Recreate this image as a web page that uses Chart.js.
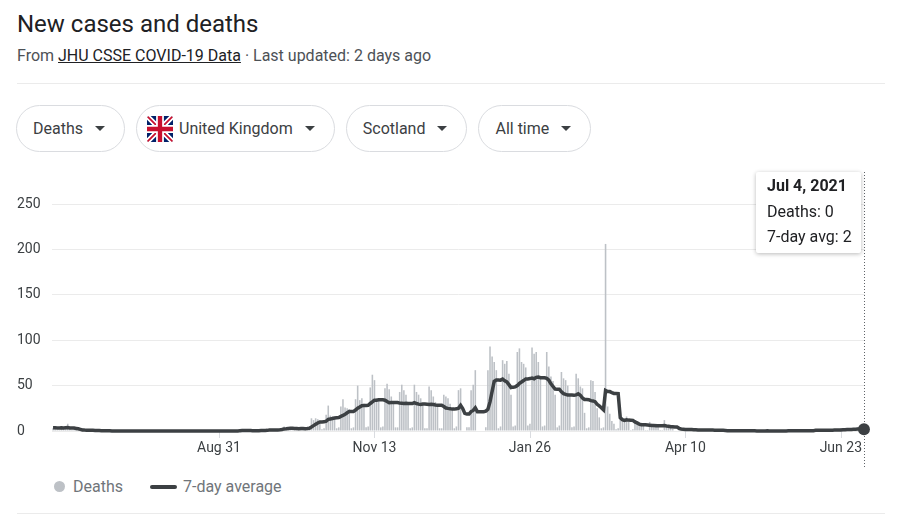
<!DOCTYPE html>
<html>
<head>
<meta charset="utf-8">
<script src="https://cdn.jsdelivr.net/npm/chart.js@4.4.1/dist/chart.umd.min.js"></script>
<style>
  body { margin: 0; background: #fff; font-family: Roboto, Arial, sans-serif; width: 921px; height: 522px; overflow: hidden; position: relative; }
  .title { position: absolute; left: 17px; top: 10px; font-size: 24px; line-height: 28px; color: #202124; }
  .sub { position: absolute; left: 17px; top: 46px; font-size: 16px; line-height: 20px; color: #4d5156; }
  .sub a { color: #202124; text-decoration: underline; }
  .rule { position: absolute; left: 17px; width: 868px; height: 1px; background: #ebebeb; }
  .chips { position: absolute; left: 16px; top: 105px; display: flex; gap: 11px; }
  .chip { box-sizing: border-box; height: 47px; border: 1px solid #dadce0; border-radius: 24px; display: flex; align-items: center; padding: 0 19px 0 16px; font-size: 16px; color: #3c4043; }
  .chip.flag { padding-left: 10px; }
  .chip svg { margin-right: 6px; }
  .caret { width: 0; height: 0; border-left: 5px solid transparent; border-right: 5px solid transparent; border-top: 5px solid #3c4043; margin-left: 12px; }
  #wrap { position: absolute; left: 17px; top: 160px; width: 868px; height: 311px; }
  .tip { position: absolute; left: 756px; top: 172px; width: 105px; height: 81px; box-sizing: border-box; background: #fff; box-shadow: 0 1px 4px rgba(0,0,0,0.28); border-radius: 2px; padding: 1px 0 0 11px; font-size: 16px; line-height: 25.5px; color: #202124; }
  .tip b { font-weight: 700; }
  .legend { position: absolute; left: 54px; top: 477px; display: flex; align-items: center; font-size: 16px; color: #70757a; }
  .dot { width: 11px; height: 11px; border-radius: 50%; background: #bdc1c6; margin-right: 8px; }
  .seg { width: 27px; height: 4px; border-radius: 2px; background: #3c4043; margin: 0 6px 0 27px; }
</style>
</head>
<body>
<div class="title">New cases and deaths</div>
<div class="sub">From <a>JHU CSSE COVID-19 Data</a> · Last updated: 2 days ago</div>
<div class="rule" style="top:83px"></div>

<div class="chips">
  <div class="chip">Deaths<span class="caret"></span></div>
  <div class="chip flag">
    <svg width="26" height="26" viewBox="0 0 60 60">
      <defs><clipPath id="r"><rect width="60" height="60" rx="6"/></clipPath></defs>
      <g clip-path="url(#r)">
        <rect width="60" height="60" fill="#012169"/>
        <path d="M0,0 L60,60 M60,0 L0,60" stroke="#fff" stroke-width="12"/>
        <path d="M0,0 L60,60 M60,0 L0,60" stroke="#C8102E" stroke-width="4"/>
        <path d="M30,0 V60 M0,30 H60" stroke="#fff" stroke-width="18"/>
        <path d="M30,0 V60 M0,30 H60" stroke="#C8102E" stroke-width="10"/>
      </g>
    </svg>United Kingdom<span class="caret"></span></div>
  <div class="chip">Scotland<span class="caret"></span></div>
  <div class="chip">All time<span class="caret"></span></div>
</div>

<div id="wrap"><canvas id="covidChart"></canvas></div>

<div class="tip"><b id="tipDate">Jul 4, 2021</b><br><span id="tipDeaths"></span><br><span id="tipAvg"></span></div>

<div class="legend"><span class="dot"></span>Deaths<span class="seg"></span>7-day average</div>
<div class="rule" style="top:513px"></div>

<script>
// first day of the series (Sat Jun 13, 2020), one value per day up to Sun Jul 4, 2021
const startDay = [2020, 5, 13];

// daily deaths: first Sat+Sun, then one row per week Mon..Sun
const deaths = [
  3, 4,
  1, 1, 5, 3, 4, 8, 2,        // Jun 15
  1, 2, 3, 1, 0, 1, 0,        // Jun 22
  0, 1, 1, 0, 1, 0, 0,        // Jun 29
  0, 0, 1, 0, 0, 1, 0,        // Jul 6
  0, 0, 0, 0, 0, 0, 0,        // Jul 13
  0, 0, 0, 0, 0, 0, 0,        // Jul 20
  0, 0, 0, 0, 0, 0, 0,        // Jul 27
  0, 0, 0, 0, 0, 0, 0,        // Aug 3
  0, 0, 0, 0, 0, 0, 0,        // Aug 10
  0, 0, 0, 0, 0, 0, 0,        // Aug 17
  0, 0, 0, 0, 0, 0, 0,        // Aug 24
  0, 0, 0, 0, 0, 0, 0,        // Aug 31
  0, 0, 1, 2, 1, 0, 0,        // Sep 7
  0, 0, 1, 0, 1, 0, 1,        // Sep 14
  0, 0, 1, 2, 1, 1, 1,        // Sep 21
  0, 1, 3, 5, 2, 3, 2,        // Sep 28
  1, 1, 4, 3, 4, 3, 2,        // Oct 5
  1, 2, 14, 12, 14, 13, 11,   // Oct 12
  2, 3, 18, 28, 17, 16, 15,   // Oct 19
  3, 4, 27, 35, 26, 25, 24,   // Oct 26
  3, 4, 35, 50, 34, 36, 30,   // Nov 2
  4, 5, 48, 62, 56, 36, 33,   // Nov 9
  4, 5, 47, 52, 46, 38, 33,   // Nov 16
  4, 4, 43, 51, 45, 40, 30,   // Nov 23
  3, 4, 51, 43, 40, 36, 30,   // Nov 30
  3, 3, 49, 45, 38, 32, 28,   // Dec 7
  3, 3, 40, 38, 36, 30, 25,   // Dec 14
  3, 5, 45, 47, 0, 0, 4,      // Dec 21
  4, 45, 51, 67, 0, 0, 0,     // Dec 28
  0, 4, 67, 93, 82, 76, 67,   // Jan 4
  3, 5, 78, 74, 77, 63, 40,   // Jan 11
  5, 6, 87, 91, 76, 74, 70,   // Jan 18
  6, 8, 92, 85, 87, 76, 60,   // Jan 25
  5, 6, 87, 71, 60, 55, 40,   // Feb 1
  4, 6, 65, 58, 56, 50, 40,   // Feb 8
  4, 5, 63, 58, 49, 47, 20,   // Feb 15
  3, 4, 56, 55, 43, 25, 15,   // Feb 22
  3, 4, 206, 27, 19, 11, 8,   // Mar 1
  2, 3, 21, 15, 13, 16, 12,   // Mar 8
  1, 2, 12, 10, 8, 9, 6,      // Mar 15
  1, 1, 10, 8, 7, 8, 6,       // Mar 22
  1, 1, 12, 6, 5, 4, 3,       // Mar 29
  0, 0, 3, 2, 3, 2, 1,        // Apr 5
  0, 0, 2, 2, 1, 2, 1,        // Apr 12
  0, 0, 1, 2, 1, 1, 0,        // Apr 19
  0, 0, 1, 1, 0, 1, 0,        // Apr 26
  0, 0, 0, 1, 1, 0, 0,        // May 3
  0, 0, 0, 1, 0, 0, 0,        // May 10
  0, 0, 1, 0, 0, 0, 0,        // May 17
  0, 0, 0, 1, 0, 1, 0,        // May 24
  0, 0, 1, 1, 0, 1, 0,        // May 31
  0, 0, 1, 1, 2, 1, 0,        // Jun 7
  0, 0, 2, 1, 2, 1, 1,        // Jun 14
  0, 0, 3, 2, 3, 2, 2,        // Jun 21
  0, 1, 3, 4, 3, 3, 0         // Jun 28
];

// 7-day average as drawn on the chart, same layout
const avg7 = [
  3.5, 3.5,
  3.4, 3.3, 3.5, 3.4, 3.6, 3.8, 3.4,
  3.3, 3.2, 2.8, 2.4, 1.8, 1.2, 1.0,
  0.9, 0.9, 0.7, 0.7, 0.6, 0.6, 0.6,
  0.4, 0.4, 0.4, 0.3, 0.3, 0.1, 0,
  0, 0, 0, 0, 0, 0, 0,
  0, 0, 0, 0, 0, 0, 0,
  0, 0, 0, 0, 0, 0, 0,
  0, 0, 0, 0, 0, 0, 0,
  0, 0, 0, 0, 0, 0, 0,
  0, 0, 0, 0, 0, 0, 0,
  0, 0, 0, 0, 0, 0, 0,
  0, 0, 0, 0, 0, 0, 0,
  0, 0, 0.1, 0.4, 0.6, 0.6, 0.6,
  0.6, 0.6, 0.4, 0.3, 0.3, 0.4, 0.6,
  0.6, 0.6, 0.7, 1.0, 1.0, 1.1, 1.1,
  1.1, 1.3, 1.6, 2.3, 2.4, 2.7, 2.9,
  2.9, 2.8, 2.8, 2.6, 2.7, 2.7, 2.6,
  2.7, 3.0, 4.4, 5.9, 7.4, 8.9, 10.0,
  10.0, 10.1, 10.7, 12.9, 13.3, 13.7, 14.3,
  14.6, 14.9, 16.1, 17.1, 18.4, 20.1, 21.4,
  21.6, 21.6, 23.0, 25.1, 26.4, 27.9, 28.0,
  28.1, 28.3, 30.3, 32.0, 34.0, 34.0, 34.4,
  34.3, 34.3, 33.9, 32.4, 31.1, 31.4, 31.4,
  31.4, 31.3, 30.7, 30.6, 30.4, 30.6, 30.2,
  30.2, 30.2, 31.3, 30.3, 29.6, 29.1, 29.6,
  29.6, 29.4, 29.1, 29.4, 29.1, 28.6, 28.3,
  28.3, 28.3, 27.0, 25.3, 24.9, 24.6, 24.1,
  24.1, 24.4, 25.1, 28.3, 24.7, 19.4, 18.6,
  18.6, 21.4, 22.6, 25.4, 21.3, 21.3, 21.3,
  21.3, 21.9, 23.9, 32.0, 43.7, 54.6, 56.1,
  56.1, 56.0, 57.1, 55.3, 54.1, 51.1, 47.9,
  48.3, 48.6, 50.0, 52.4, 54.0, 55.6, 57.4,
  57.4, 57.7, 58.4, 57.6, 59.1, 59.4, 58.7,
  58.7, 58.6, 57.9, 55.9, 52.0, 49.0, 46.1,
  46.0, 46.0, 43.1, 41.1, 40.4, 39.6, 39.6,
  39.6, 39.4, 39.8, 40.9, 39.4, 36.3, 34.7,
  34.6, 34.5, 33.4, 33.1, 32.3, 29.4, 27.7,
  25.7, 23.4, 44.6, 43.4, 43.4, 42.3, 41.4,
  41.3, 41.1, 14.6, 12.4, 11.7, 12.4, 12.0,
  11.9, 11.7, 10.0, 8.9, 7.6, 7.0, 6.9,
  6.9, 6.7, 6.4, 6.1, 6.0, 5.9, 5.9,
  5.9, 5.9, 6.1, 5.6, 5.3, 4.7, 4.6,
  4.4, 4.3, 2.9, 2.3, 2.0, 1.7, 1.6,
  1.6, 1.6, 1.4, 1.4, 1.1, 1.1, 1.1,
  1.1, 1.1, 1.0, 1.0, 1.0, 0.9, 0.7,
  0.7, 0.7, 0.7, 0.6, 0.4, 0.4, 0.4,
  0.4, 0.4, 0.3, 0.3, 0.4, 0.3, 0.3,
  0.3, 0.3, 0.3, 0.3, 0.1, 0.1, 0.1,
  0.1, 0.1, 0.3, 0.1, 0.1, 0.1, 0.1,
  0.1, 0.1, 0, 0.1, 0.1, 0.3, 0.3,
  0.3, 0.3, 0.4, 0.4, 0.3, 0.4, 0.4,
  0.4, 0.4, 0.4, 0.4, 0.7, 0.7, 0.7,
  0.7, 0.7, 0.9, 0.9, 0.9, 0.9, 1.0,
  1.0, 1.0, 1.1, 1.3, 1.4, 1.6, 1.7,
  1.7, 1.9, 1.9, 2.1, 2.1, 2.3, 2.0
];

const tickDates = ["2020-08-31", "2020-11-13", "2021-01-26", "2021-04-10", "2021-06-23"];
const tickLabels = ["Aug 31", "Nov 13", "Jan 26", "Apr 10", "Jun 23"];
const yTicks = [0, 50, 100, 150, 200, 250];

const monthNames = ["Jan","Feb","Mar","Apr","May","Jun","Jul","Aug","Sep","Oct","Nov","Dec"];

// one category per day
let days = [];
for (let i = 0; i < deaths.length; i++) {
    let d = new Date(startDay[0], startDay[1], startDay[2] + i);
    let key = d.getFullYear() + "-" + String(d.getMonth() + 1).padStart(2, "0") + "-" + String(d.getDate()).padStart(2, "0");
    days.push({ key: key, text: monthNames[d.getMonth()] + " " + d.getDate() + ", " + d.getFullYear() });
}
let labels = days.map(d => d.key);
let last = labels.length - 1;

document.getElementById("tipDate").innerText = days[last].text;
document.getElementById("tipDeaths").innerText = "Deaths: " + deaths[last];
document.getElementById("tipAvg").innerText = "7-day avg: " + Math.round(avg7[last]);

// small tick marks under the labelled days, plus the dotted hover line at the last day
const extras = {
    id: "extras",
    beforeDatasetsDraw(chart) {
        let c = chart.ctx;
        let bottom = chart.chartArea.bottom;
        c.save();
        c.strokeStyle = "#dadce0";
        c.lineWidth = 1;
        tickDates.forEach(t => {
            let x = Math.round(chart.scales.x.getPixelForValue(labels.indexOf(t))) + 0.5;
            c.beginPath();
            c.moveTo(x, bottom);
            c.lineTo(x, bottom + 7);
            c.stroke();
        });
        c.restore();
    },
    afterDatasetsDraw(chart) {
        let x = chart.scales.x.getPixelForValue(last);
        let c = chart.ctx;
        c.save();
        c.strokeStyle = "#5f6368";
        c.lineWidth = 1;
        c.setLineDash([1, 2]);
        c.beginPath();
        c.moveTo(Math.round(x) + 0.5, 12);
        c.lineTo(Math.round(x) + 0.5, 307);
        c.stroke();
        c.restore();
        // end point drawn on top of the hover line
        let y = chart.scales.y.getPixelForValue(avg7[last]);
        c.fillStyle = "#3c4043";
        c.beginPath();
        c.arc(x, y, 6, 0, Math.PI * 2);
        c.fill();
    }
};

let ctx = document.getElementById("covidChart").getContext("2d");
let covidChart = new Chart(ctx, {
    type: "bar",
    data: {
        labels: labels,
        datasets: [{
            type: "line",
            label: "7-day average",
            data: avg7,
            borderColor: "#3c4043",
            borderWidth: 3.5,
            pointRadius: 0,
            tension: 0,
            order: 0,
            clip: false
        }, {
            type: "bar",
            label: "Deaths",
            data: deaths,
            backgroundColor: "#bdc1c6",
            categoryPercentage: 1,
            barPercentage: 0.75,
            order: 1
        }]
    },
    options: {
        responsive: true,
        maintainAspectRatio: false,
        animation: false,
        events: [],
        layout: { padding: { top: 44, right: 20, bottom: 0, left: 0 } },
        plugins: { legend: { display: false }, tooltip: { enabled: false } },
        scales: {
            x: {
                grid: { display: false },
                border: { display: false },
                ticks: {
                    autoSkip: false,
                    maxRotation: 0,
                    padding: 1,
                    color: "#3c4043",
                    font: { family: "Roboto", size: 14 },
                    callback: function (val, index) {
                        let k = tickDates.indexOf(labels[index]);
                        return k >= 0 ? tickLabels[k] : null;
                    }
                },
                afterFit: function (scale) { scale.height = 40; }
            },
            y: {
                min: 0,
                max: 250,
                grid: { color: "#ebebeb", drawTicks: false },
                border: { display: false },
                afterBuildTicks: function (scale) { scale.ticks = yTicks.map(v => ({ value: v })); },
                ticks: {
                    crossAlign: "far",
                    padding: 0,
                    color: "#3c4043",
                    font: { family: "Roboto", size: 14 }
                },
                afterFit: function (scale) { scale.width = 35; }
            }
        }
    },
    plugins: [extras]
});
</script>
</body>
</html>
